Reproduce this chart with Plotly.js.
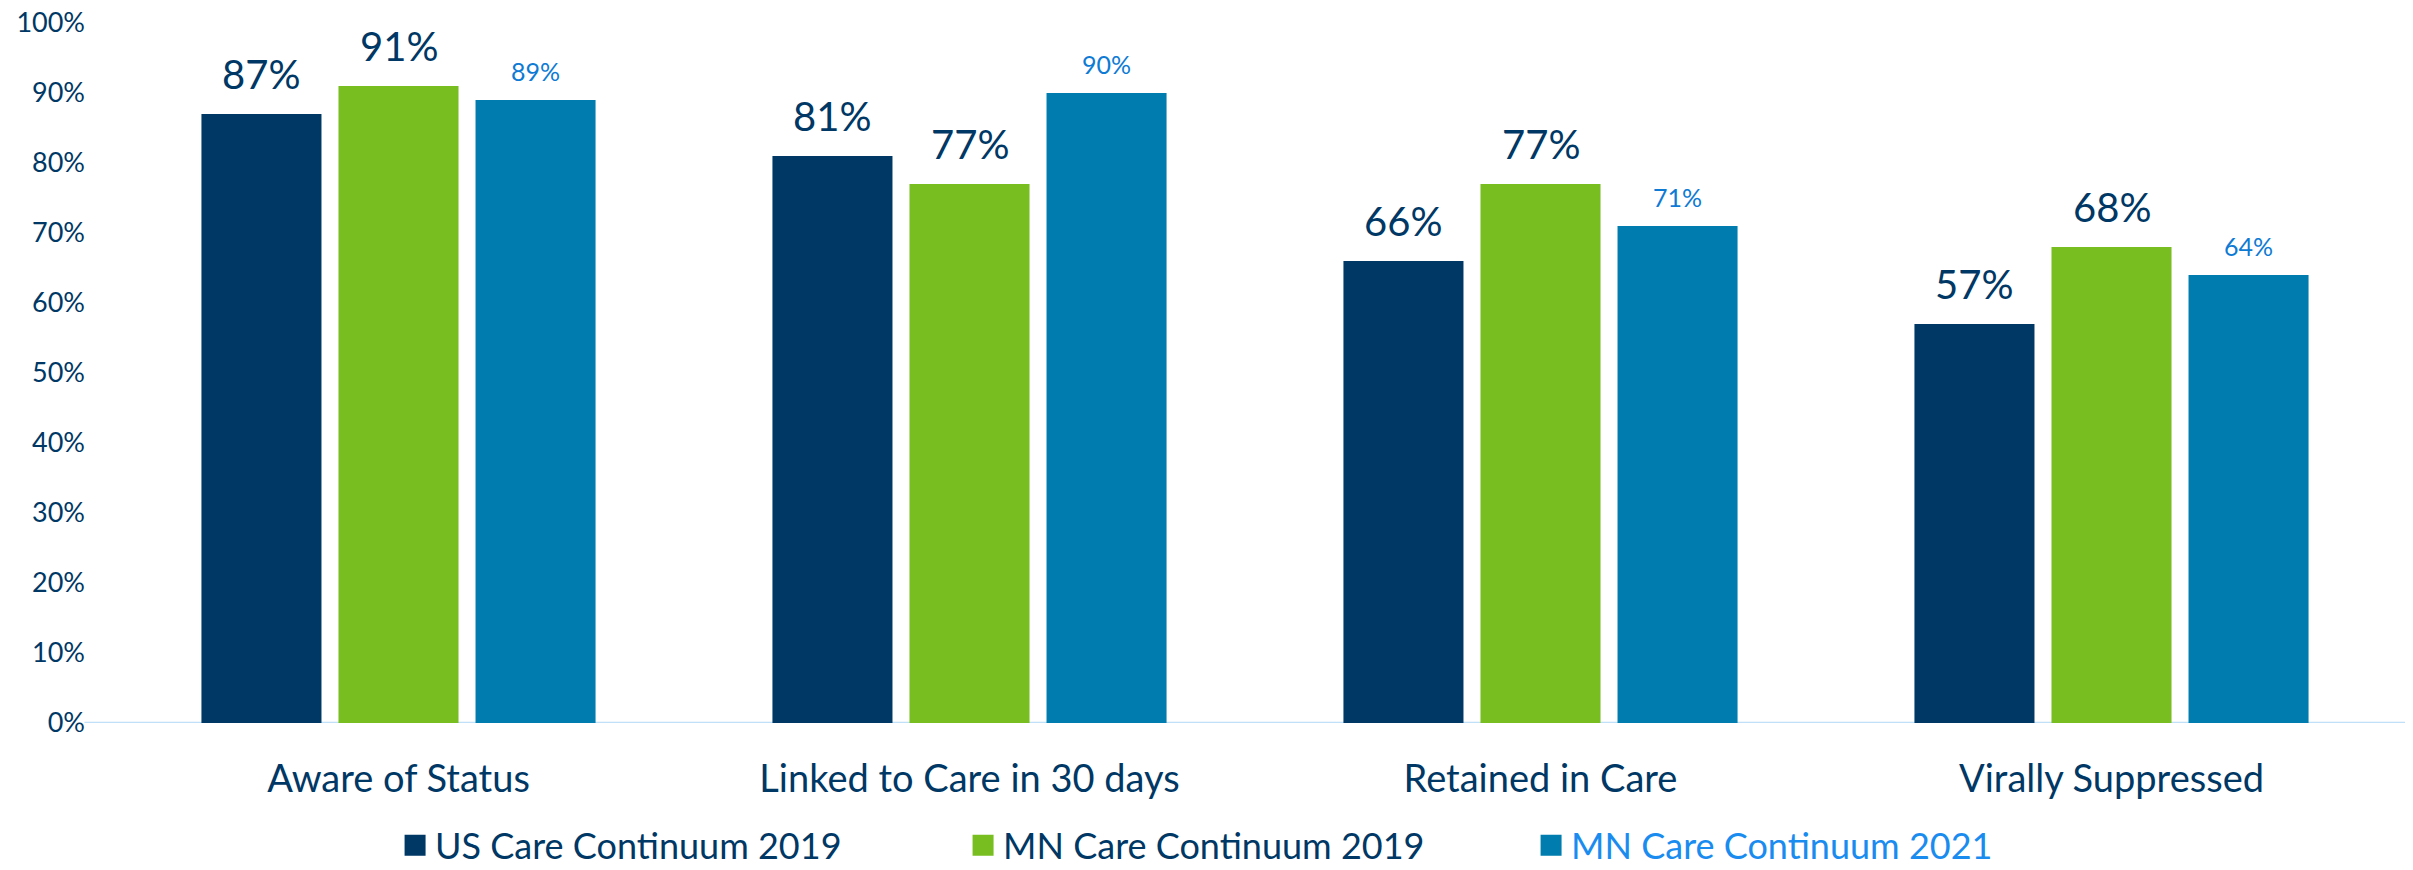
<!DOCTYPE html>
<html>
<head>
<meta charset="utf-8">
<script src="https://cdn.plot.ly/plotly-3.0.1.min.js"></script>
<style>html,body{margin:0;padding:0;background:#fff;}#chart{width:2413px;height:870px;}</style>
</head>
<body>
<div id="chart"></div>
<script>
var categories = ["Aware of Status", "Linked to Care in 30 days", "Retained in Care", "Virally Suppressed"];
var seriesNames = ["US Care Continuum 2019", "MN Care Continuum 2019", "MN Care Continuum 2021"];
var usCare2019 = [87, 81, 66, 57];
var mnCare2019 = [91, 77, 77, 68];
var mnCare2021 = [89, 90, 71, 64];
var yTickVals = [0, 10, 20, 30, 40, 50, 60, 70, 80, 90, 100];
var yTickText = ["0%", "10%", "20%", "30%", "40%", "50%", "60%", "70%", "80%", "90%", "100%"];

var navy = "#003865", green = "#78BE21", blue = "#007DAE";
var labelBlue = "#0D7AD4", legendBlue = "#1A8CF0";
var font = "Lato, 'Open Sans', sans-serif";

var series = [usCare2019, mnCare2019, mnCare2021];
var colors = [navy, green, blue];
var legendTextColors = [navy, navy, legendBlue];
var labelColors = [navy, navy, labelBlue];
var labelSizes = [40, 40, 25];
var labelShift = [14, 14, 12];

var traces = series.map(function (vals, i) {
  return {
    type: "bar",
    x: categories,
    y: vals,
    name: seriesNames[i],
    marker: { color: colors[i] },
    showlegend: false,
    hoverinfo: "y"
  };
});
// legend entries (larger square symbols)
series.forEach(function (vals, i) {
  traces.push({
    type: "scatter", mode: "markers", x: [null], y: [null],
    name: '<span style="color:' + legendTextColors[i] + '">' + seriesNames[i] + '</span>',
    marker: { symbol: "square", size: 16, color: colors[i], line: { color: colors[i], width: 5 } },
    showlegend: true, hoverinfo: "skip"
  });
});

var slot = 0.24;
var annotations = [];
series.forEach(function (vals, i) {
  vals.forEach(function (v, j) {
    annotations.push({
      x: j + (i - 1) * slot, y: v, xref: "x", yref: "y",
      text: v + "%", showarrow: false, yanchor: "bottom", yshift: labelShift[i],
      font: { family: font, size: labelSizes[i], color: labelColors[i] }
    });
  });
});

var layout = {
  width: 2413, height: 870,
  margin: { l: 113, r: 16, t: 23, b: 147.3, autoexpand: false },
  paper_bgcolor: "#fff", plot_bgcolor: "#fff",
  barmode: "group", bargap: 0.28, bargroupgap: 0.124,
  font: { family: font, color: navy },
  showlegend: true,
  legend: {
    orientation: "h", x: 0.1235, xanchor: "left", y: -0.1748, yanchor: "middle",
    font: { family: font, size: 36, color: navy },
    entrywidth: 523, entrywidthmode: "pixels"
  },
  xaxis: {
    type: "category", range: [-0.5, 3.5], showgrid: false, zeroline: false,
    showline: false, ticks: "", ticklabelstandoff: 30,
    tickfont: { family: font, size: 38, color: navy }
  },
  yaxis: {
    range: [0, 100], tickvals: yTickVals, ticktext: yTickText,
    showgrid: false, zeroline: false, showline: false, ticks: "",
    ticklabelstandoff: 27,
    tickfont: { family: font, size: 27, color: navy }
  },
  shapes: [{
    type: "line", xref: "paper", yref: "y", x0: -0.0125, x1: 1.0035, y0: 0, y1: 0,
    line: { color: "#BFE0F8", width: 2.5 }, layer: "below"
  }],
  annotations: annotations
};

Plotly.newPlot("chart", traces, layout, { displayModeBar: false, staticPlot: true });
</script>
</body>
</html>
